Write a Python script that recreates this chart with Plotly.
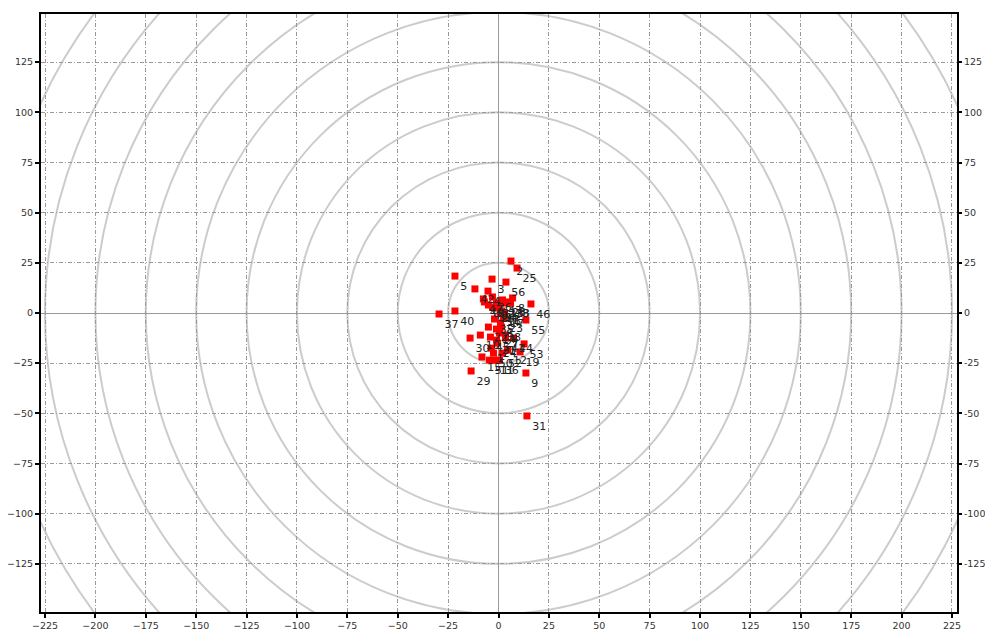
import plotly.graph_objects as go

labels = [str(i) for i in range(1, 57)]
xs = [-3.5, 6.2, -3.2, -5.2, -21.6, 1.0, 3.5, 7.0, 13.6, -9.0,
      -2.0, 4.5, 3.0, -1.0, -8.2, 1.5, 3.0, 5.5, 10.7, -1.5,
      -1.0, -5.0, 2.5, -0.5, 9.2, -3.0, 0.5, 4.0, -13.6, -14.1,
      14.1, -1.0, 6.0, 0.0, -2.0, 0.5, -29.5, 1.5, -3.0, -21.6,
      3.5, -11.7, 2.0, 7.5, -4.0, 16.1, -7.5, -5.0, -7.0, -2.5,
      -4.5, 2.0, 12.7, 1.0, 13.6, 3.7]
ys = [-17.5, 25.9, 16.9, 10.9, 18.4, -5.0, -11.0, 7.5, -29.9, -11.0,
      -23.5, -18.5, 5.0, -8.0, -21.9, 1.0, 0.0, 5.0, -19.4, 2.5,
      -13.5, -7.0, -2.5, -15.0, 22.4, 8.0, -10.0, 5.5, -28.9, -12.5,
      -51.3, 5.0, 5.0, 3.0, -3.0, -23.5, -0.5, -7.0, 3.0, 1.0,
      -12.5, 12.0, 6.5, -12.5, -12.0, 4.5, 7.0, 4.0, 5.5, -20.0,
      -23.5, -20.0, -15.4, 0.5, -3.5, 15.4]
ring_radii = [25, 50, 75, 100, 125, 150, 175, 200, 225, 250, 275]
x_ticks = list(range(-225, 226, 25))
y_ticks = list(range(-125, 126, 25))
y_tick_text = [str(v) for v in y_ticks]

fig = go.Figure()
fig.add_trace(go.Scatter(
    x=xs, y=ys, mode="markers+text", text=labels,
    textposition="bottom right",
    textfont=dict(family="DejaVu Sans", size=11, color="#222"),
    marker=dict(symbol="square", size=7, color="#ff0000"),
    showlegend=False, cliponaxis=True,
))
fig.add_trace(go.Scatter(x=[None], y=[None], yaxis="y2", showlegend=False))

for r in ring_radii:
    fig.add_shape(type="circle", xref="x", yref="y", x0=-r, x1=r, y0=-r, y1=r,
                  line=dict(color="#cccccc", width=2), layer="below")

tickfont = dict(family="DejaVu Sans", size=9.5, color="#333")
axis_common = dict(
    showline=True, linecolor="black", linewidth=2,
    ticks="outside", ticklen=4, tickwidth=2, tickcolor="black",
    tickfont=tickfont, automargin=False,
    gridcolor="#9a9a9a", griddash="4px,2px,1px,2px", gridwidth=1,
    zeroline=True, zerolinecolor="#9a9a9a", zerolinewidth=1,
)
fig.update_layout(
    width=985, height=622,
    margin=dict(l=33, r=36, t=6, b=18),
    plot_bgcolor="white", paper_bgcolor="white",
    xaxis=dict(range=[-227, 227.5], tickvals=x_ticks, mirror=True, **axis_common),
    yaxis=dict(range=[-149, 149], tickvals=y_ticks, mirror=True, **axis_common),
    yaxis2=dict(overlaying="y", side="right", matches="y", tickvals=y_ticks,
                ticktext=y_tick_text,
                showgrid=False, zeroline=False, showline=True, linecolor="black",
                linewidth=2, ticks="outside", ticklen=3, tickwidth=2, tickcolor="black",
                tickfont=tickfont, automargin=False),
)
fig.write_html("out.html")
